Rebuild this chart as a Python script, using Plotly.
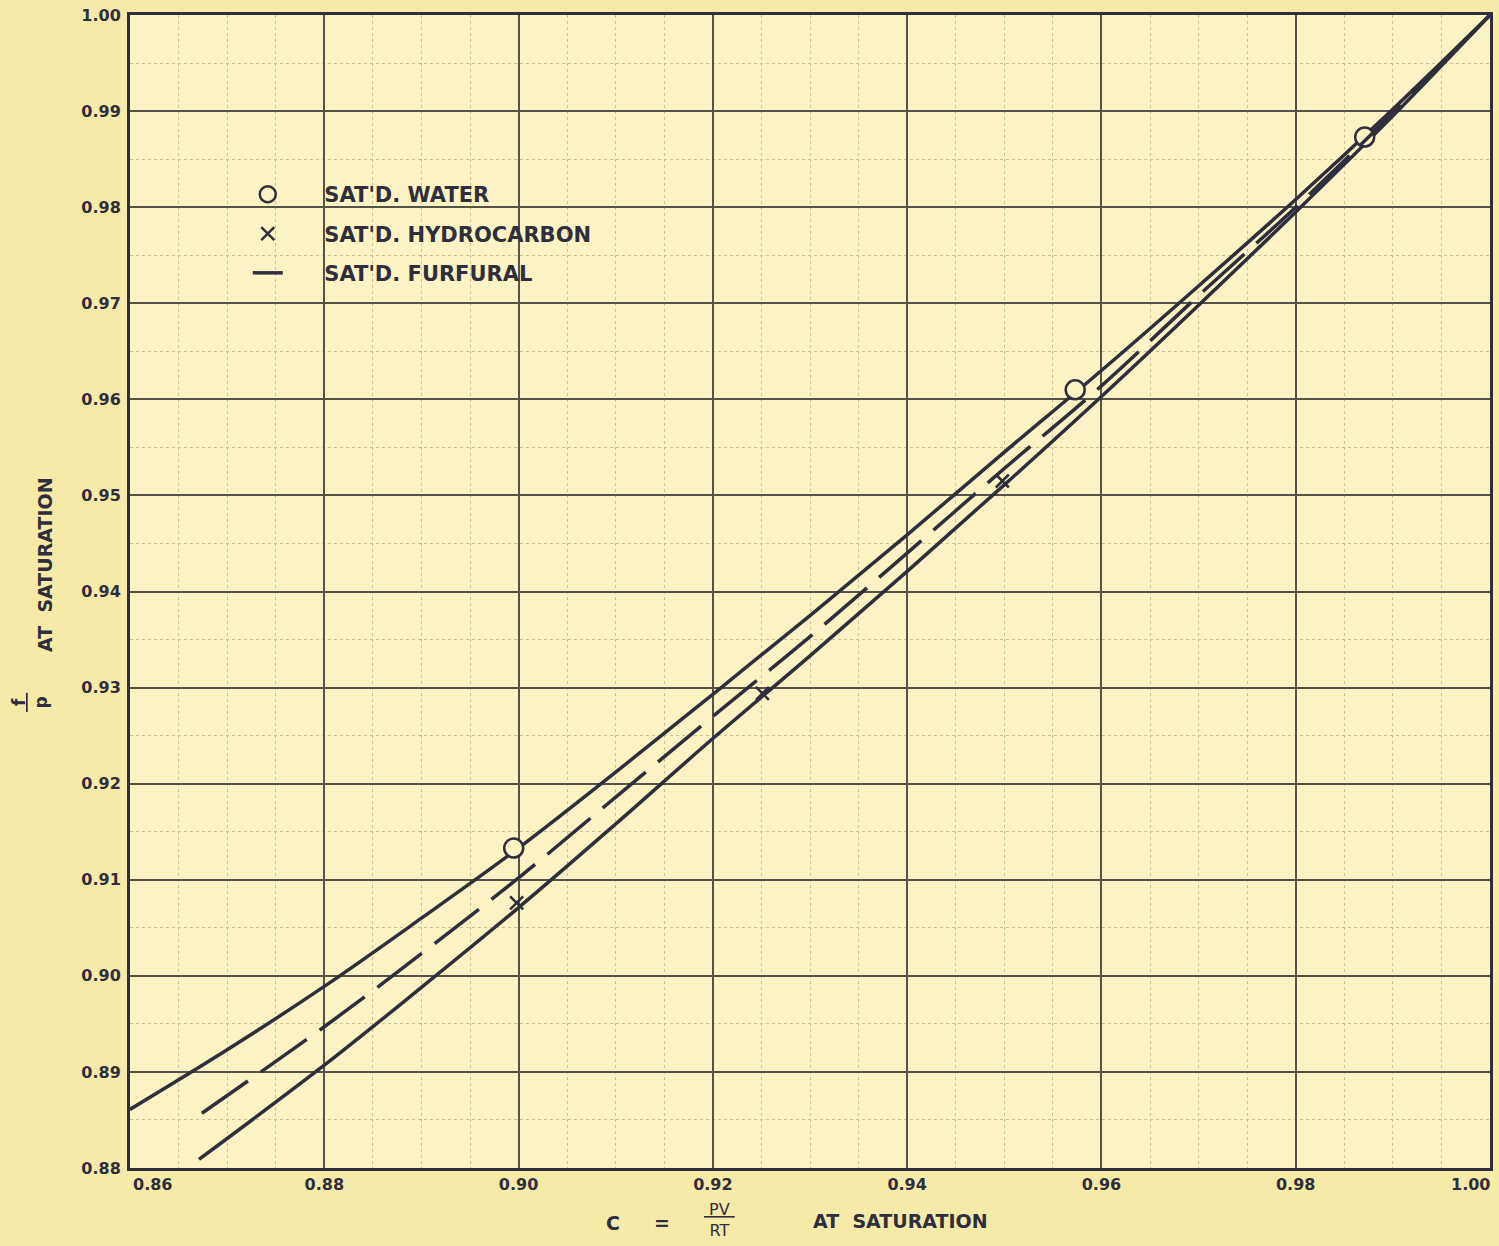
import plotly.graph_objects as go

# ---- data ----
water_curve_x = [0.86, 0.87, 0.88, 0.89, 0.90, 0.91, 0.92, 0.93, 0.94, 0.95, 0.96, 0.97, 0.98, 0.99, 1.00]
water_curve_y = [0.8861, 0.8923, 0.8989, 0.9060, 0.9133, 0.9212, 0.9293, 0.9375, 0.9459, 0.9545, 0.9630, 0.9718, 0.9808, 0.9902, 1.0000]

furfural_x = [0.8674, 0.88, 0.89, 0.90, 0.91, 0.92, 0.93, 0.94, 0.95, 0.96, 0.97, 0.98, 0.99, 1.00]
furfural_y = [0.8857, 0.8947, 0.9023, 0.9102, 0.9186, 0.9270, 0.9353, 0.9440, 0.9528, 0.9614, 0.9708, 0.9800, 0.9898, 1.0000]

hydro_curve_x = [0.8671, 0.88, 0.89, 0.90, 0.91, 0.92, 0.93, 0.94, 0.95, 0.96, 0.97, 0.98, 0.99, 1.00]
hydro_curve_y = [0.8809, 0.8907, 0.8988, 0.9071, 0.9158, 0.9247, 0.9333, 0.9421, 0.9511, 0.9603, 0.9698, 0.9795, 0.9895, 1.0000]

water_pts_x = [0.8995, 0.9573, 0.9871]
water_pts_y = [0.9133, 0.9610, 0.9873]
hydro_pts_x = [0.8998, 0.9251, 0.9498]
hydro_pts_y = [0.9076, 0.9294, 0.9515]

x_ticks = [0.86, 0.88, 0.90, 0.92, 0.94, 0.96, 0.98, 1.00]
x_tick_labels = ["0.86", "0.88", "0.90", "0.92", "0.94", "0.96", "0.98", "1.00"]
y_ticks = [0.88, 0.89, 0.90, 0.91, 0.92, 0.93, 0.94, 0.95, 0.96, 0.97, 0.98, 0.99, 1.00]
y_tick_labels = ["0.88", "0.89", "0.90", "0.91", "0.92", "0.93", "0.94", "0.95", "0.96", "0.97", "0.98", "0.99", "1.00"]

PAD = "\u00a0" * 5
legend_names = [PAD + "SAT'D. WATER", PAD + "SAT'D. HYDROCARBON", PAD + "SAT'D. FURFURAL"]

INK = "#2e2e3c"
PLOT_BG = "#fbf3c4"
PAPER_BG = "#f6eaa8"
FONT = "DejaVu Sans"
TICK_FONT = dict(size=16, family=FONT, color=INK, weight="bold")

W, H = 1499, 1246
L, R, T, B = 130, 9, 15, 78
pw, ph = W - L - R, H - T - B

fig = go.Figure()

fig.add_trace(go.Scatter(x=water_curve_x, y=water_curve_y, mode="lines",
                         line=dict(color=INK, width=3.5, shape="spline"), showlegend=False))
fig.add_trace(go.Scatter(x=hydro_curve_x, y=hydro_curve_y, mode="lines",
                         line=dict(color=INK, width=3.5, shape="spline"), showlegend=False))
fig.add_trace(go.Scatter(x=water_pts_x, y=water_pts_y, mode="markers", name=legend_names[0],
                         legendgroup="a",
                         marker=dict(symbol="circle", size=19, color=PLOT_BG,
                                     line=dict(color=INK, width=2.5))))
fig.add_trace(go.Scatter(x=hydro_pts_x, y=hydro_pts_y, mode="markers", name=legend_names[1],
                         legendgroup="b",
                         marker=dict(symbol="x-thin-open", size=13, color=INK,
                                     line=dict(color=INK, width=2.5))))
fig.add_trace(go.Scatter(x=furfural_x, y=furfural_y, mode="lines", name=legend_names[2],
                         legendgroup="c",
                         line=dict(color=INK, width=3.5, dash="56px,16px", shape="spline")))

# interior x tick labels on the axis; the two end labels are nudged inward (as in the reference)
inner_text = [t if 0 < i < len(x_tick_labels) - 1 else "" for i, t in enumerate(x_tick_labels)]

fig.update_layout(
    width=W, height=H,
    margin=dict(l=L, r=R, t=T, b=B, autoexpand=False),
    plot_bgcolor=PLOT_BG, paper_bgcolor=PAPER_BG,
    font=dict(family=FONT, color=INK),
    legend=dict(x=0.0866, y=0.862, xanchor="left", yanchor="top",
                bgcolor="rgba(0,0,0,0)", tracegroupgap=9,
                font=dict(size=21, family=FONT, color=INK, weight="bold")),
    xaxis=dict(range=[0.86, 1.00], tickvals=x_ticks, ticktext=inner_text,
               automargin=False,
               showgrid=True, gridcolor="#55524a", gridwidth=1.6,
               minor=dict(dtick=0.005, showgrid=True, gridcolor="#cbc294",
                          gridwidth=1, griddash="dot"),
               showline=True, linecolor=INK, linewidth=3, mirror=True,
               ticks="", zeroline=False, tickfont=TICK_FONT),
    yaxis=dict(range=[0.88, 1.00], tickvals=y_ticks, ticktext=y_tick_labels,
               ticklabeloverflow="allow", automargin=False,
               showgrid=True, gridcolor="#55524a", gridwidth=1.6,
               minor=dict(dtick=0.005, showgrid=True, gridcolor="#cbc294",
                          gridwidth=1, griddash="dot"),
               showline=True, linecolor=INK, linewidth=3, mirror=True,
               ticks="", zeroline=False, ticklabelstandoff=3, tickfont=TICK_FONT),
)

label_y = (H - B - 1184) / ph
fig.add_annotation(x=x_ticks[0], y=label_y, xref="x", yref="paper", text=x_tick_labels[0],
                   xanchor="left", yanchor="middle", xshift=1, showarrow=False, font=TICK_FONT)
fig.add_annotation(x=x_ticks[-1], y=label_y, xref="x", yref="paper", text=x_tick_labels[-1],
                   xanchor="right", yanchor="middle", xshift=2, showarrow=False, font=TICK_FONT)

# axis title pieces, placed in pixel coords then converted to paper fractions
title_font = dict(size=19, family=FONT, color=INK, weight="bold")
frac_font = dict(size=17, family=FONT, color=INK, weight="bold")
pieces = [
    dict(x=613, y=1223, text="C", font=title_font, textangle=0),
    dict(x=662, y=1223, text="=", font=title_font, textangle=0),
    dict(x=719, y=1220, text="<u>\u00a0PV\u00a0</u><br>RT", font=dict(size=16, family=FONT, color=INK), textangle=0),
    dict(x=900, y=1221, text="AT  SATURATION", font=title_font, textangle=0),
    dict(x=45, y=565, text="AT  SATURATION", font=title_font, textangle=-90),
    dict(x=30, y=703, text="<u>\u00a0f\u00a0</u><br>p", font=frac_font, textangle=-90),
]
for p in pieces:
    fig.add_annotation(x=(p["x"] - L) / pw, y=(H - B - p["y"]) / ph, xref="paper", yref="paper",
                       text=p["text"], font=p["font"], textangle=p["textangle"],
                       xanchor="center", yanchor="middle", showarrow=False)

fig.write_html("out.html", config={"displayModeBar": False},
               post_script="document.body.style.margin='0';document.body.style.overflow='hidden';")
